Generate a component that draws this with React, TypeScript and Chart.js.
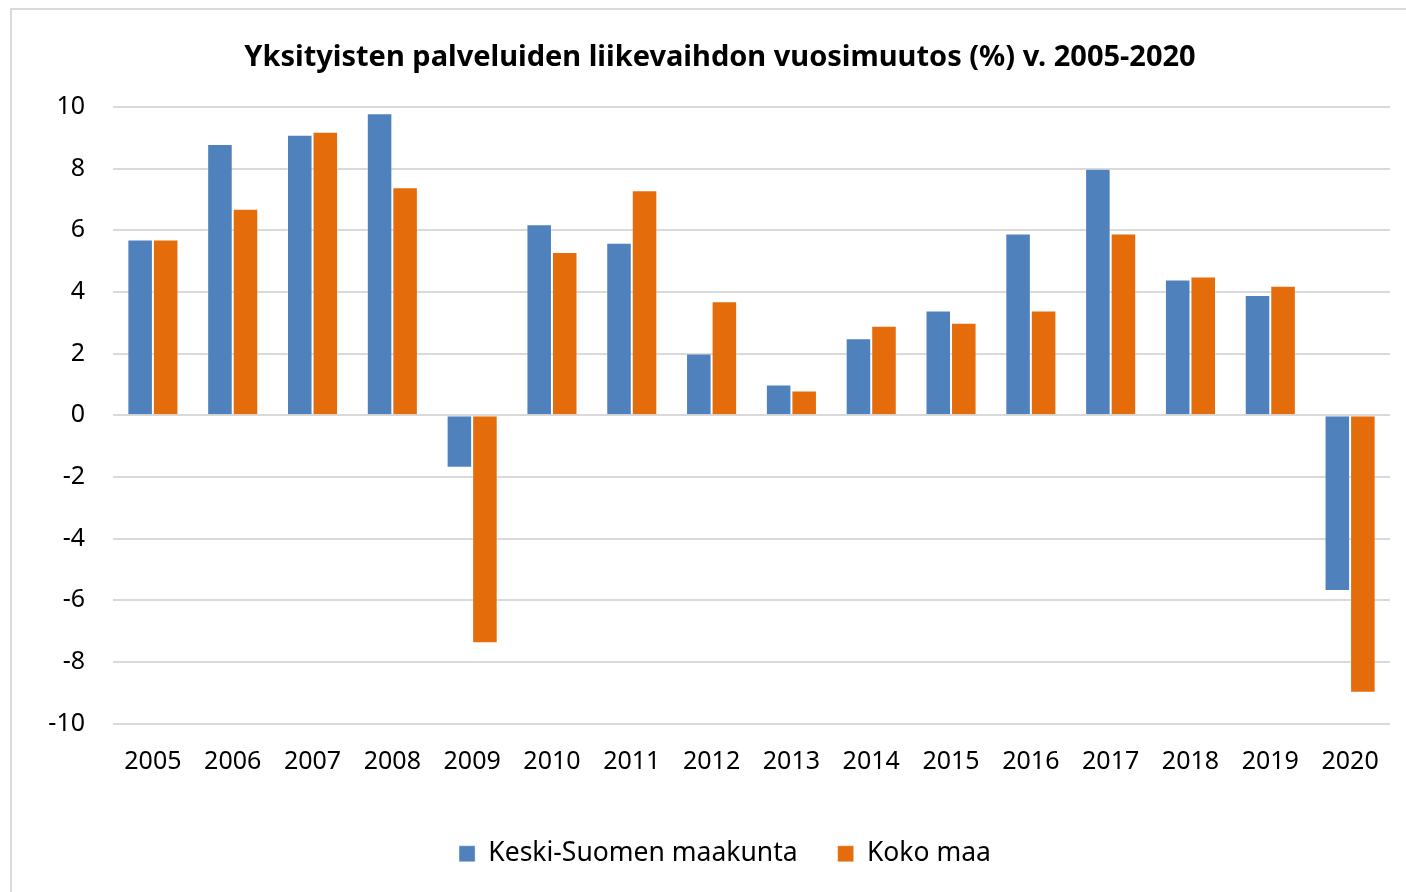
import React, { useEffect, useRef } from "react";
import { Chart, registerables } from "chart.js";

Chart.register(...registerables);

const years = ["2005", "2006", "2007", "2008", "2009", "2010", "2011", "2012", "2013", "2014", "2015", "2016", "2017", "2018", "2019", "2020"];
const keskiSuomi = [5.7, 8.8, 9.1, 9.8, -1.7, 6.2, 5.6, 2.0, 1.0, 2.5, 3.4, 5.9, 8.0, 4.4, 3.9, -5.7];
const kokoMaa = [5.7, 6.7, 9.2, 7.4, -7.4, 5.3, 7.3, 3.7, 0.8, 2.9, 3.0, 3.4, 5.9, 4.5, 4.2, -9.0];
const seriesNames = ["Keski-Suomen maakunta", "Koko maa"];
const titleText = "Yksityisten palveluiden liikevaihdon vuosimuutos (%) v. 2005-2020";
const yMin = -10;
const yMax = 10;
const yStep = 2;

const FONT = "'Noto Sans', sans-serif";

const framePlugin = {
  id: "frame",
  afterLayout(chart: any) {
    if (chart.legend) {
      chart.legend.left += 30;
      chart.legend.right += 30;
    }
    if (chart.titleBlock) {
      chart.titleBlock.left += 25;
      chart.titleBlock.right += 25;
    }
  },
  beforeDraw(chart: any) {
    const ctx = chart.ctx;
    ctx.save();
    ctx.fillStyle = "#ffffff";
    ctx.fillRect(0, 0, chart.width, chart.height);
    ctx.strokeStyle = "#d9d9d9";
    ctx.lineWidth = 2;
    ctx.strokeRect(11, 9, chart.width + 20, chart.height + 20);
    ctx.restore();
  },
};

export default function App() {
  const ref = useRef<HTMLCanvasElement | null>(null);
  useEffect(() => {
    if (!ref.current) return;
    const chart = new Chart(ref.current, {
      type: "bar",
      data: {
        labels: years,
        datasets: [
          {
            label: seriesNames[0],
            data: keskiSuomi,
            backgroundColor: "#4f81bd",
            borderColor: "rgba(255,255,255,0.35)",
            borderWidth: 1,
          },
          {
            label: seriesNames[1],
            data: kokoMaa,
            backgroundColor: "#e46c0a",
            borderColor: "rgba(255,255,255,0.35)",
            borderWidth: 1,
          },
        ],
      },
      options: {
        responsive: false,
        animation: false,
        layout: { padding: { left: 0, right: 16, top: 0, bottom: 15 } },
        datasets: { bar: { categoryPercentage: 0.64, barPercentage: 1.0 } },
        plugins: {
          title: {
            display: true,
            text: titleText,
            color: "#000000",
            font: { family: FONT, size: 29, weight: "bold" },
            padding: { top: 40.6, bottom: 31.6 },
          },
          legend: {
            position: "bottom",
            labels: {
              color: "#000000",
              font: { family: FONT, size: 26.5 },
              boxWidth: 16,
              boxHeight: 16,
              padding: 40,
            },
          },
          tooltip: { enabled: false },
        },
        scales: {
          x: {
            grid: { display: false, drawTicks: false },
            border: { display: false },
            ticks: {
              color: "#000000",
              font: { family: FONT, size: 25 },
              padding: 23,
              maxRotation: 0,
              autoSkip: false,
            },
            afterFit: (s: any) => {
              s.height = 77;
            },
          },
          y: {
            min: yMin,
            max: yMax,
            grid: { color: "#d9d9d9", lineWidth: 2, drawTicks: false },
            border: { display: false },
            ticks: {
              stepSize: yStep,
              color: "#000000",
              font: { family: FONT, size: 25 },
              padding: 28,
            },
            afterFit: (s: any) => {
              s.width = 113;
            },
          },
        },
      },
      plugins: [framePlugin],
    });
    return () => chart.destroy();
  }, []);
  return (
    <canvas
      ref={ref}
      width={1406}
      height={892}
      style={{ position: "fixed", left: 0, top: 0, width: 1406, height: 892 }}
    />
  );
}
